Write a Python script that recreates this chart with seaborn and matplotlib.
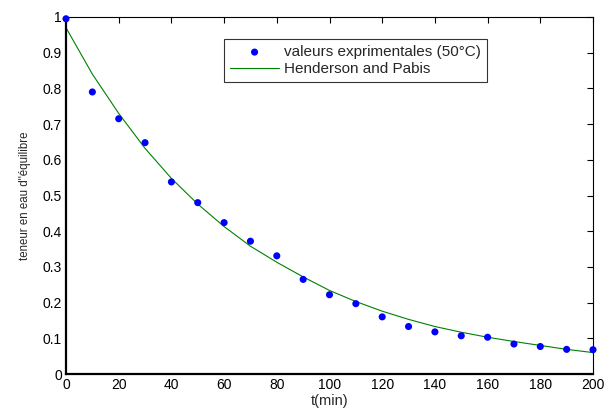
import matplotlib
matplotlib.use("Agg")
import matplotlib.pyplot as plt
import seaborn as sns
import pandas as pd
from matplotlib.ticker import FuncFormatter

t_exp = [0, 10, 20, 30, 40, 50, 60, 70, 80, 90, 100, 110, 120, 130, 140, 150, 160, 170, 180, 190, 200]
x_exp = [0.995, 0.79, 0.715, 0.648, 0.538, 0.48, 0.424, 0.372, 0.331, 0.265, 0.222, 0.197, 0.160, 0.133, 0.118, 0.107, 0.103, 0.084, 0.077, 0.069, 0.068]
t_mod = [0, 10, 20, 30, 40, 50, 60, 70, 80, 90, 100, 110, 120, 130, 140, 150, 160, 170, 180, 190, 200]
x_mod = [0.970, 0.840, 0.730, 0.632, 0.548, 0.476, 0.413, 0.358, 0.313, 0.272, 0.234, 0.203, 0.176, 0.153, 0.133, 0.117, 0.103, 0.091, 0.080, 0.069, 0.060]

xticks = [0, 20, 40, 60, 80, 100, 120, 140, 160, 180, 200]
yticks = [0, 0.1, 0.2, 0.3, 0.4, 0.5, 0.6, 0.7, 0.8, 0.9, 1.0]

sns.set_style("white")
plt.rcParams['font.family'] = ['Liberation Sans', 'DejaVu Sans']

df_exp = pd.DataFrame({"t": t_exp, "x": x_exp})
df_mod = pd.DataFrame({"t": t_mod, "x": x_mod})

fig = plt.figure(figsize=(6.12, 4.09), dpi=100)
ax = fig.add_axes([66/612, 1 - 374/409, (593-66)/612, (374-17)/409])

sns.scatterplot(data=df_exp, x="t", y="x", ax=ax, color="#0000ff", s=26, edgecolor="none",
                label="valeurs exprimentales (50°C)", zorder=3, clip_on=False)
sns.lineplot(data=df_mod, x="t", y="x", ax=ax, color="#008000", linewidth=0.8,
             label="Henderson and Pabis", zorder=2)

ax.set_xlim(0, 200)
ax.set_ylim(0, 1)
ax.set_xticks(xticks)
ax.set_yticks(yticks)
ax.yaxis.set_major_formatter(FuncFormatter(lambda v, p: ("%g" % round(v, 2))))
ax.tick_params(direction="in", length=4, width=0.8, top=True, right=True,
               labelsize=10, colors="black", pad=3)
for s in ax.spines.values():
    s.set_color("black")
    s.set_linewidth(0.8)
ax.spines["left"].set_linewidth(1.6)
ax.spines["bottom"].set_linewidth(1.6)

ax.set_xlabel("t(min)", fontsize=10.5, labelpad=1)
ax.set_ylabel("teneur en eau d\"équilibre", fontsize=8.3, labelpad=8)

leg = ax.legend(loc="upper left", bbox_to_anchor=((224-66)/527, 1 - (39-17)/357),
                frameon=True, fancybox=False, fontsize=11, borderpad=0.4,
                handlelength=3.2, handletextpad=0.35, labelspacing=0.2, borderaxespad=0)
leg.get_frame().set_edgecolor("black")
leg.get_frame().set_linewidth(0.8)

fig.savefig("out.png", dpi=100)
